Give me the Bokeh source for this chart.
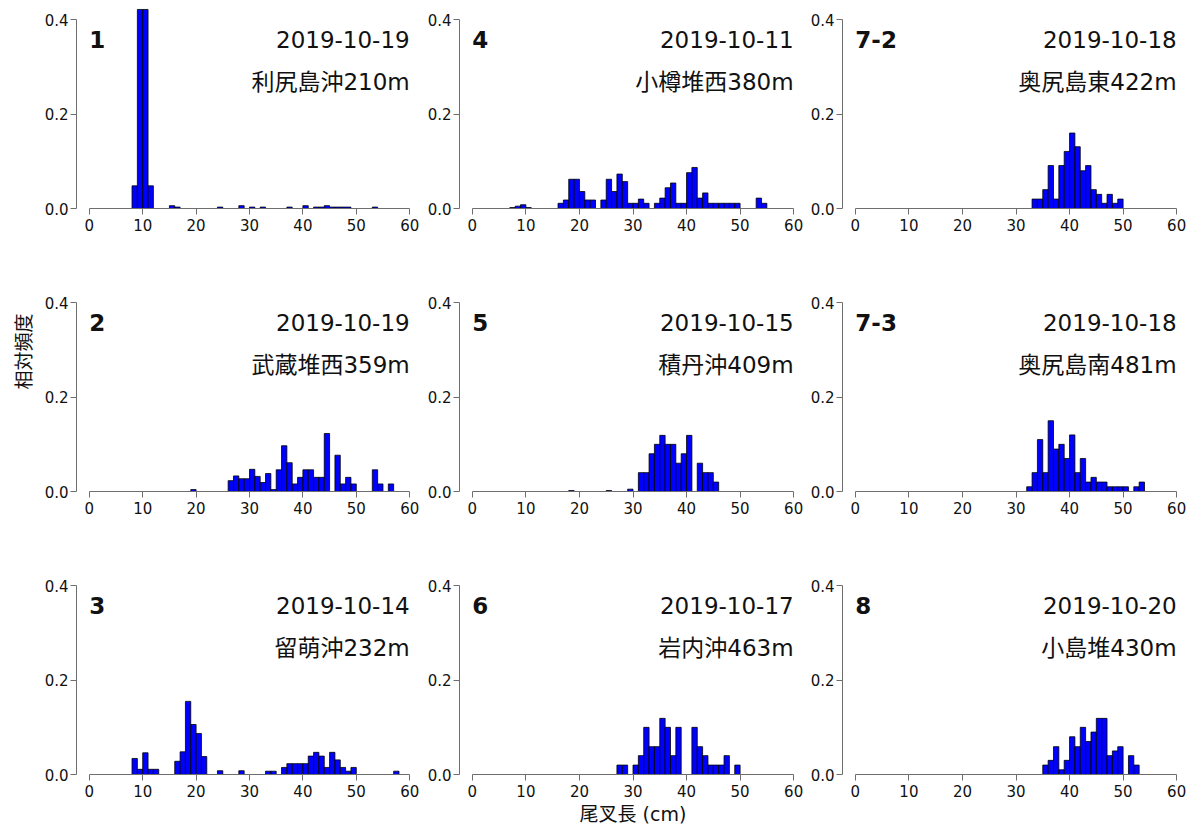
from bokeh.plotting import figure
from bokeh.layouts import gridplot
from bokeh.models import FixedTicker, NumeralTickFormatter, Range1d, Title
from bokeh.core.properties import value
from bokeh.embed import file_html
from bokeh.resources import INLINE

# ---------------- data (bin left edge in cm, relative frequency) ----------------
panel_ids = ["1", "4", "7-2", "2", "5", "7-3", "3", "6", "8"]
dates = ["2019-10-19", "2019-10-11", "2019-10-18",
         "2019-10-19", "2019-10-15", "2019-10-18",
         "2019-10-14", "2019-10-17", "2019-10-20"]
stations = ["利尻島沖210m", "小樽堆西380m", "奥尻島東422m",
            "武蔵堆西359m", "積丹沖409m", "奥尻島南481m",
            "留萌沖232m", "岩内沖463m", "小島堆430m"]

len_1 = [8, 9, 10, 11, 15, 16, 24, 28, 30, 32, 37, 40, 42, 43, 44, 45, 46, 47, 48, 53]
freq_1 = [0.048, 0.422, 0.422, 0.048, 0.006, 0.003, 0.003, 0.006, 0.003, 0.003,
          0.003, 0.006, 0.003, 0.003, 0.006, 0.003, 0.003, 0.003, 0.003, 0.003]

len_4 = [7, 8, 9, 10, 16, 17, 18, 19, 20, 21, 22, 24, 25, 26, 27, 28, 29, 30, 31, 32,
         34, 35, 36, 37, 38, 39, 40, 41, 42, 43, 44, 45, 46, 47, 48, 49, 53, 54]
freq_4 = [0.002, 0.005, 0.008, 0.002, 0.011, 0.018, 0.062, 0.062, 0.036, 0.018,
          0.018, 0.018, 0.062, 0.036, 0.073, 0.057, 0.011, 0.011, 0.020, 0.011,
          0.011, 0.022, 0.044, 0.054, 0.011, 0.011, 0.076, 0.087, 0.022, 0.033,
          0.011, 0.011, 0.011, 0.011, 0.011, 0.011, 0.022, 0.011]

len_72 = [33, 34, 35, 36, 37, 38, 39, 40, 41, 42, 43, 44, 45, 46, 47, 48, 49]
freq_72 = [0.020, 0.020, 0.040, 0.091, 0.020, 0.091, 0.121, 0.160, 0.131, 0.080,
           0.091, 0.040, 0.030, 0.011, 0.030, 0.011, 0.020]

len_2 = [19, 26, 27, 28, 29, 30, 31, 32, 33, 34, 35, 36, 37, 38, 39, 40, 41, 42, 43, 44,
         46, 47, 48, 49, 53, 54, 56]
freq_2 = [0.004, 0.023, 0.033, 0.027, 0.027, 0.047, 0.032, 0.019, 0.038, 0.004,
          0.046, 0.097, 0.061, 0.016, 0.030, 0.046, 0.046, 0.030, 0.030, 0.123,
          0.077, 0.016, 0.030, 0.016, 0.046, 0.016, 0.016]

len_5 = [18, 25, 29, 31, 32, 33, 34, 35, 36, 37, 38, 39, 40, 42, 43, 44, 45]
freq_5 = [0.002, 0.002, 0.005, 0.040, 0.040, 0.080, 0.100, 0.119, 0.100, 0.100,
          0.060, 0.080, 0.119, 0.060, 0.040, 0.040, 0.020]

len_73 = [32, 33, 34, 35, 36, 37, 38, 39, 40, 41, 42, 43, 44, 45, 46, 47, 48, 49, 50, 52, 53]
freq_73 = [0.010, 0.040, 0.110, 0.040, 0.150, 0.090, 0.100, 0.070, 0.120, 0.040,
           0.070, 0.020, 0.030, 0.020, 0.020, 0.010, 0.010, 0.010, 0.010, 0.010, 0.020]

len_3 = [8, 9, 10, 11, 12, 16, 17, 18, 19, 20, 21, 24, 28, 33, 34, 36, 37, 38, 39, 40,
         41, 42, 43, 44, 45, 46, 47, 48, 49, 57]
freq_3 = [0.034, 0.011, 0.046, 0.011, 0.011, 0.028, 0.048, 0.155, 0.106, 0.087,
          0.038, 0.008, 0.008, 0.007, 0.007, 0.015, 0.023, 0.023, 0.023, 0.023,
          0.039, 0.047, 0.039, 0.015, 0.047, 0.031, 0.015, 0.007, 0.015, 0.007]

len_6 = [27, 28, 30, 31, 32, 33, 34, 35, 36, 37, 38, 41, 42, 43, 44, 45, 46, 47, 49]
freq_6 = [0.020, 0.020, 0.020, 0.040, 0.100, 0.059, 0.059, 0.119, 0.100, 0.040,
          0.100, 0.100, 0.059, 0.040, 0.020, 0.020, 0.020, 0.040, 0.020]

len_8 = [35, 36, 37, 38, 39, 40, 41, 42, 43, 44, 45, 46, 47, 48, 49, 51, 52]
freq_8 = [0.020, 0.030, 0.059, 0.010, 0.030, 0.080, 0.059, 0.100, 0.070, 0.090,
          0.119, 0.119, 0.040, 0.050, 0.059, 0.040, 0.020]

x_ticks = [0, 10, 20, 30, 40, 50, 60]
y_ticks = [0.0, 0.2, 0.4]
x_label = "尾叉長 (cm)"
y_label = "相対頻度"

lengths = [len_1, len_4, len_72, len_2, len_5, len_73, len_3, len_6, len_8]
freqs = [freq_1, freq_4, freq_72, freq_2, freq_5, freq_73, freq_3, freq_6, freq_8]

# ---------------- layout / style ----------------
FW, FH = 347, 200
col_left = [75, 37, 36]
row_top = [8, 38, 38]
row_bottom = [45, 45, 56]
AX = "#6e6e6e"
TXT = "#111111"
BIN = 1.0
MIXED_FONT = "DejaVu Sans, Noto Sans CJK JP"

figs = []
for i in range(9):
    r, c = divmod(i, 3)
    p = figure(width=col_left[c] + FW, height=row_top[r] + FH + row_bottom[r],
               x_range=Range1d(-2.4, 62.4), y_range=Range1d(0, 0.424),
               output_backend="svg", toolbar_location=None,
               min_border_left=col_left[c], min_border_right=0,
               min_border_top=row_top[r], min_border_bottom=row_bottom[r])
    p.outline_line_color = None
    p.xgrid.visible = False
    p.ygrid.visible = False
    p.background_fill_color = "white"
    p.border_fill_color = "white"

    p.xaxis.ticker = FixedTicker(ticks=x_ticks)
    p.xaxis.bounds = (x_ticks[0], x_ticks[-1])
    p.yaxis.ticker = FixedTicker(ticks=y_ticks)
    p.yaxis.bounds = (y_ticks[0], y_ticks[-1])
    p.yaxis.formatter = NumeralTickFormatter(format="0.0")
    for ax in p.axis:
        ax.axis_line_color = AX
        ax.major_tick_line_color = AX
        ax.major_tick_out = 6
        ax.major_tick_in = 0
        ax.minor_tick_out = 0
        ax.minor_tick_in = 0
        ax.major_label_text_font = "DejaVu Sans"
        ax.major_label_text_font_size = "15px"
        ax.major_label_text_color = TXT
    p.xaxis.major_label_standoff = 4
    p.yaxis.major_label_standoff = 2

    lft = lengths[i]
    p.quad(left=lft, right=[v + BIN for v in lft], bottom=0, top=freqs[i],
           fill_color="#0000FF", line_color="#000000", line_width=0.8)

    p.text(x=[0], y=[0.359], text=[panel_ids[i]], text_font=value("DejaVu Sans"),
           text_font_style="bold", text_font_size="23px", text_align="left",
           text_baseline="middle", text_color=TXT)
    p.text(x=[60], y=[0.359], text=[dates[i]], text_font=value("DejaVu Sans"),
           text_font_size="23px", text_align="right", text_baseline="middle",
           text_color=TXT)
    p.text(x=[60], y=[0.268], text=[stations[i]], text_font=value(MIXED_FONT),
           text_font_size="23px", text_align="right", text_baseline="middle",
           text_color=TXT)

    if i == 3:
        p.add_layout(Title(text=y_label, align="left", offset=102, standoff=12,
                           text_font="Noto Sans CJK JP", text_font_size="19px",
                           text_font_style="normal", text_color=TXT), "left")
    if i == 7:
        p.xaxis.axis_label = x_label
        p.xaxis.axis_label_standoff = 3
        p.xaxis.axis_label_text_font = MIXED_FONT
        p.xaxis.axis_label_text_font_size = "19px"
        p.xaxis.axis_label_text_font_style = "normal"
        p.xaxis.axis_label_text_color = TXT
    figs.append(p)

grid = gridplot(figs, ncols=3, toolbar_location=None)
open("out.html", "w").write(file_html(grid, INLINE))
